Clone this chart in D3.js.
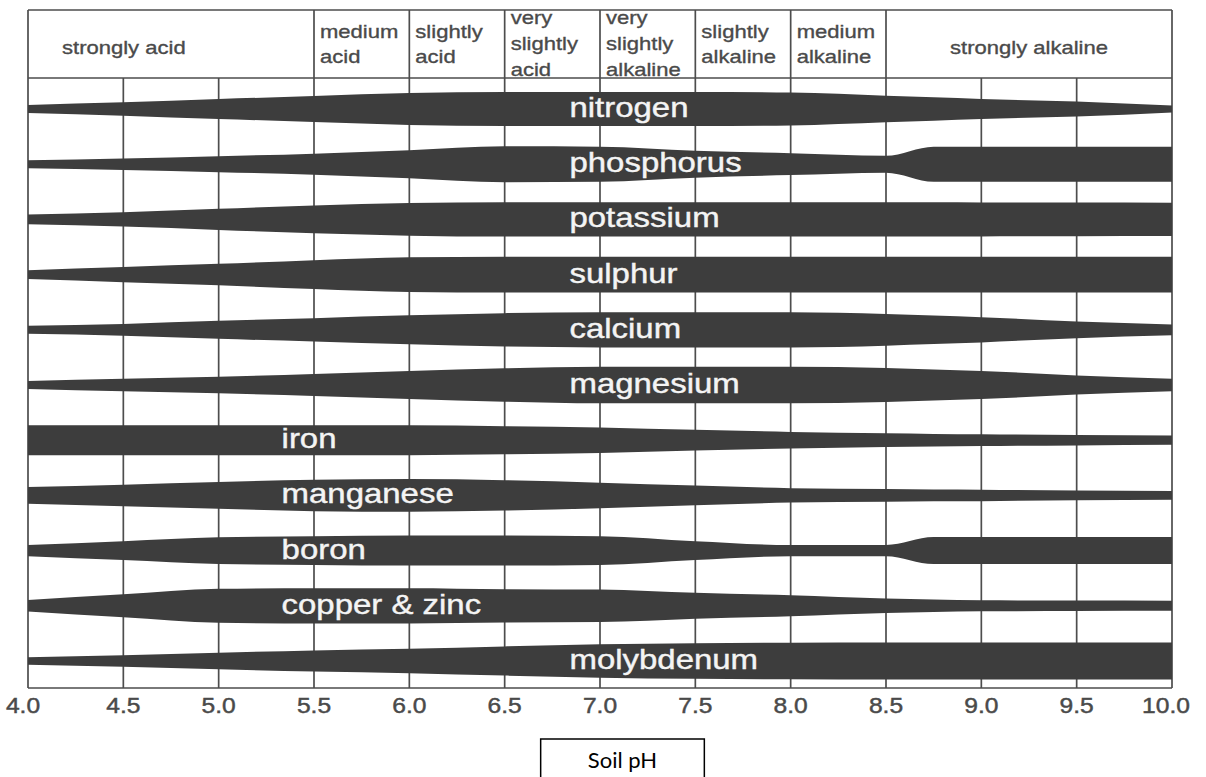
<!DOCTYPE html>
<html>
<head>
<meta charset="utf-8">
<script src="https://cdn.jsdelivr.net/npm/d3@7"></script>
<style>
  html, body { margin: 0; padding: 0; background: #ffffff; }
  svg { display: block; }
</style>
</head>
<body>
<svg id="chart" width="1206" height="777"></svg>
<script>
// ---------- DATA ----------
const phPoints = [4.0, 4.5, 5.0, 5.5, 6.0, 6.5, 7.0, 7.5, 8.0, 8.5, 8.75, 9.0, 9.5, 10.0];
const phTicks = [4.0, 4.5, 5.0, 5.5, 6.0, 6.5, 7.0, 7.5, 8.0, 8.5, 9.0, 9.5, 10.0];

const nutrients = ["nitrogen", "phosphorus", "potassium", "sulphur", "calcium", "magnesium",
                   "iron", "manganese", "boron", "copper & zinc", "molybdenum"];

// relative availability (0-10) at each phPoints value
const nitrogen   = [2.2, 3.6, 5.4, 7.0, 8.6, 9.2, 9.2, 9.2, 8.9, 7.2, 6.3, 5.4, 4.1, 1.9];
const phosphorus = [2.2, 3.1, 4.3, 5.7, 7.6, 9.7, 9.5, 7.3, 5.9, 4.6, 9.5, 9.5, 9.5, 9.5];
const potassium  = [2.6, 3.9, 5.7, 7.5, 8.8, 9.3, 9.3, 9.3, 9.3, 9.3, 9.3, 9.2, 9.1, 9.0];
const sulphur    = [2.4, 4.1, 5.8, 7.8, 9.4, 9.7, 9.7, 9.7, 9.7, 9.7, 9.7, 9.7, 9.7, 9.7];
const calcium    = [2.2, 3.2, 4.9, 6.3, 7.8, 9.0, 9.5, 9.5, 9.5, 8.6, 7.7, 6.8, 4.5, 2.9];
const magnesium  = [2.2, 3.4, 4.5, 5.9, 7.6, 9.0, 9.9, 9.9, 9.9, 9.2, 8.4, 7.6, 5.2, 3.4];
const iron       = [8.1, 8.1, 8.1, 8.1, 8.1, 7.6, 6.9, 5.6, 4.5, 3.7, 3.4, 3.2, 2.8, 2.5];
const manganese  = [4.5, 5.8, 7.2, 8.5, 8.8, 8.2, 6.9, 5.3, 3.9, 3.4, 3.2, 3.1, 2.6, 2.4];
const boron      = [3.0, 5.1, 7.2, 7.8, 8.1, 8.1, 7.8, 5.1, 3.0, 3.0, 7.3, 7.3, 7.3, 7.3];
const copperZinc = [3.1, 6.2, 9.2, 9.5, 9.5, 9.0, 8.8, 7.0, 5.7, 3.9, 3.4, 3.0, 2.8, 2.7];
const molybdenum = [2.0, 3.1, 4.5, 5.7, 6.6, 7.9, 9.0, 9.6, 9.9, 10.0, 10.0, 10.0, 10.0, 10.0];

const seriesValues = [nitrogen, phosphorus, potassium, sulphur, calcium, magnesium,
                      iron, manganese, boron, copperZinc, molybdenum];

// labels placed in the acid part of the chart (others sit mid-chart)
const earlyLabelNutrients = ["iron", "manganese", "boron", "copper & zinc"];

// header zones
const zoneFrom  = [4.0, 5.5, 6.0, 6.5, 7.0, 7.5, 8.0, 8.5];
const zoneTo    = [5.5, 6.0, 6.5, 7.0, 7.5, 8.0, 8.5, 10.0];
const zoneLines = [
  ["strongly acid"],
  ["medium", "acid"],
  ["slightly", "acid"],
  ["very", "slightly", "acid"],
  ["very", "slightly", "alkaline"],
  ["slightly", "alkaline"],
  ["medium", "alkaline"],
  ["strongly alkaline"]
];

const axisTitle = "Soil pH";

// ---------- LAYOUT ----------
const svg = d3.select("#chart");
const topY = 10, headerBottom = 78, plotBottom = 688;
const x = d3.scaleLinear().domain([4, 10]).range([28, 1172]);
const yBand = d3.scalePoint().domain(nutrients).range([109, 661]);
const halfW = d3.scaleLinear().domain([0, 10]).range([0, 18.5]);

const lineColor = "#4d4d4d";
const bandColor = "#3d3d3d";
const textGray = "#4a4a4a";
const fontMain = "'Liberation Sans', Arial, Helvetica, sans-serif";

svg.append("rect").attr("width", 1206).attr("height", 777).attr("fill", "#ffffff");

// grid lines
const grid = svg.append("g").attr("stroke", lineColor).attr("stroke-width", 1.7).attr("fill", "none");
grid.selectAll("line.v").data(phTicks).join("line")
  .attr("x1", d => x(d)).attr("x2", d => x(d))
  .attr("y1", d => (d === 4 || d === 10) ? topY : headerBottom)
  .attr("y2", plotBottom);
grid.selectAll("line.h").data(zoneFrom.slice(1)).join("line")
  .attr("x1", d => x(d)).attr("x2", d => x(d))
  .attr("y1", topY).attr("y2", headerBottom);
[topY, headerBottom, plotBottom].forEach(yy => {
  grid.append("line").attr("x1", x(4)).attr("x2", x(10)).attr("y1", yy).attr("y2", yy);
});

// header text
const header = svg.append("g").attr("fill", textGray)
  .attr("stroke", textGray).attr("stroke-width", 0.35)
  .style("font-family", fontMain).style("font-size", "19px");
const hsx = 1.16;
zoneLines.forEach((lines, i) => {
  const x0 = x(zoneFrom[i]), x1 = x(zoneTo[i]);
  let baselines;
  if (lines.length === 1) baselines = [54];
  else if (lines.length === 2) baselines = [38, 63];
  else baselines = [24, 50, 76];
  let tx, anchor;
  if (lines.length === 1 && zoneFrom[i] === 4.0) { tx = x0 + 34; anchor = "start"; }
  else if (lines.length === 1) { tx = (x0 + x1) / 2; anchor = "middle"; }
  else { tx = x0 + 6; anchor = "start"; }
  lines.forEach((ln, j) => {
    header.append("text")
      .attr("transform", `translate(${tx},${baselines[j]}) scale(${hsx},1)`)
      .attr("text-anchor", anchor)
      .text(ln);
  });
});

// bands
const bands = svg.append("g");
nutrients.forEach((name, i) => {
  const cy = yBand(name);
  const pts = phPoints.map((p, k) => ({ ph: p, v: seriesValues[i][k] }));
  const area = d3.area()
    .x(d => x(d.ph))
    .y0(d => cy - halfW(d.v))
    .y1(d => cy + halfW(d.v))
    .curve(d3.curveMonotoneX);
  bands.append("path").datum(pts).attr("d", area).attr("fill", bandColor);
});

// band labels
const labels = svg.append("g").attr("fill", "#f4f4f4")
  .attr("stroke", "#f4f4f4").attr("stroke-width", 0.4)
  .style("font-family", fontMain).style("font-size", "27px");
nutrients.forEach(name => {
  const lx = earlyLabelNutrients.includes(name) ? x(5.33) : x(6.84);
  labels.append("text")
    .attr("transform", `translate(${lx},${yBand(name) + 8}) scale(1.22,1)`)
    .text(name);
});

// tick labels
const ticks = svg.append("g").attr("fill", textGray)
  .attr("stroke", textGray).attr("stroke-width", 0.45)
  .style("font-family", fontMain).style("font-size", "22px");
ticks.selectAll("text").data(phTicks).join("text")
  .attr("transform", d => `translate(${x(d) - (d === 4 ? 5 : (d === 10 ? 6 : 0))},713) scale(1.12,1)`)
  .attr("text-anchor", "middle")
  .text(d => d3.format(".1f")(d));

// axis title box
const boxX0 = x(6.5) + 36, boxX1 = x(7.5) + 9;
svg.append("rect")
  .attr("x", boxX0).attr("y", 739)
  .attr("width", boxX1 - boxX0).attr("height", 60)
  .attr("fill", "#ffffff").attr("stroke", "#000000").attr("stroke-width", 1.5);
svg.append("text")
  .attr("x", (boxX0 + boxX1) / 2).attr("y", 768)
  .attr("text-anchor", "middle")
  .style("font-family", "Lato, 'Open Sans', sans-serif").style("font-size", "22px")
  .attr("fill", "#000000")
  .text(axisTitle);
</script>
</body>
</html>
